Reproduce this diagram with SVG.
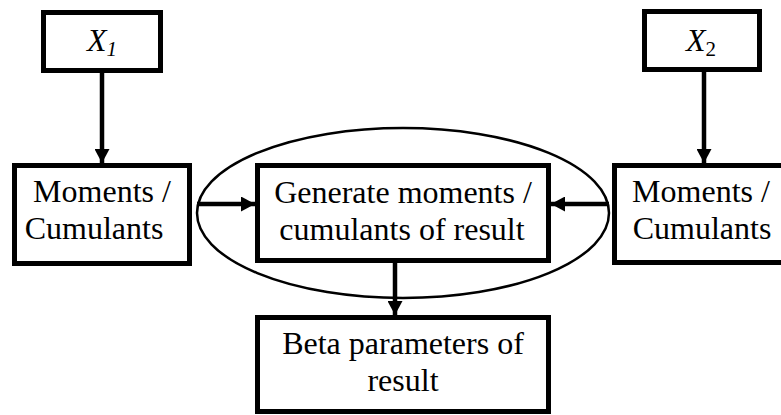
<svg xmlns="http://www.w3.org/2000/svg" width="781" height="415" viewBox="0 0 781 415">
<style>
.box{fill:#fff;stroke:#000;stroke-width:5}
.t{font-family:"Liberation Serif","Times New Roman",serif;font-size:32px;fill:#000;text-anchor:middle}
.it{font-style:italic}
.conn{stroke:#000;stroke-width:4.5;fill:none}
</style>
<defs>
<marker id="ah" markerWidth="14" markerHeight="15" refX="14" refY="7.5" orient="auto" markerUnits="userSpaceOnUse">
<path d="M0,0 L14,7.5 L0,15 Z" fill="#000"/>
</marker>
</defs>
<rect width="781" height="415" fill="#fff"/>
<ellipse cx="403" cy="213" rx="206" ry="85" fill="none" stroke="#000" stroke-width="2.5"/>
<g id="connectors">
<line class="conn" x1="102" y1="73" x2="102" y2="163" marker-end="url(#ah)"/>
<line class="conn" x1="704" y1="72" x2="704" y2="163" marker-end="url(#ah)"/>
<line class="conn" x1="197" y1="204" x2="255" y2="204" marker-end="url(#ah)"/>
<line class="conn" x1="609" y1="204" x2="551" y2="204" marker-end="url(#ah)"/>
<line class="conn" x1="395" y1="263" x2="395" y2="315" marker-end="url(#ah)"/>
</g>
<g id="x1">
<rect class="box" x="43.5" y="12.5" width="117" height="58"/>
<text class="t it" x="102" y="51">X<tspan font-size="21" dy="5">1</tspan></text>
</g>
<g id="x2">
<rect class="box" x="644.5" y="11.5" width="115" height="58"/>
<text class="t it" x="701" y="51">X<tspan font-size="21" font-style="normal" dy="5">2</tspan></text>
</g>
<g id="mom1">
<rect class="box" x="14.5" y="165.5" width="175" height="98"/>
<text class="t" x="102" y="202">Moments /</text>
<text class="t" x="94" y="239">Cumulants</text>
</g>
<g id="mom2">
<rect class="box" x="614.5" y="165.5" width="175" height="97"/>
<text class="t" x="701" y="202">Moments /</text>
<text class="t" x="702" y="239">Cumulants</text>
</g>
<g id="gen">
<rect class="box" x="257.5" y="165.5" width="291" height="95"/>
<text class="t" x="403" y="203">Generate moments /</text>
<text class="t" x="402" y="240">cumulants of result</text>
</g>
<g id="beta">
<rect class="box" x="257.5" y="317.5" width="291" height="94"/>
<text class="t" x="403" y="354">Beta parameters of</text>
<text class="t" x="403" y="391">result</text>
</g>
</svg>
